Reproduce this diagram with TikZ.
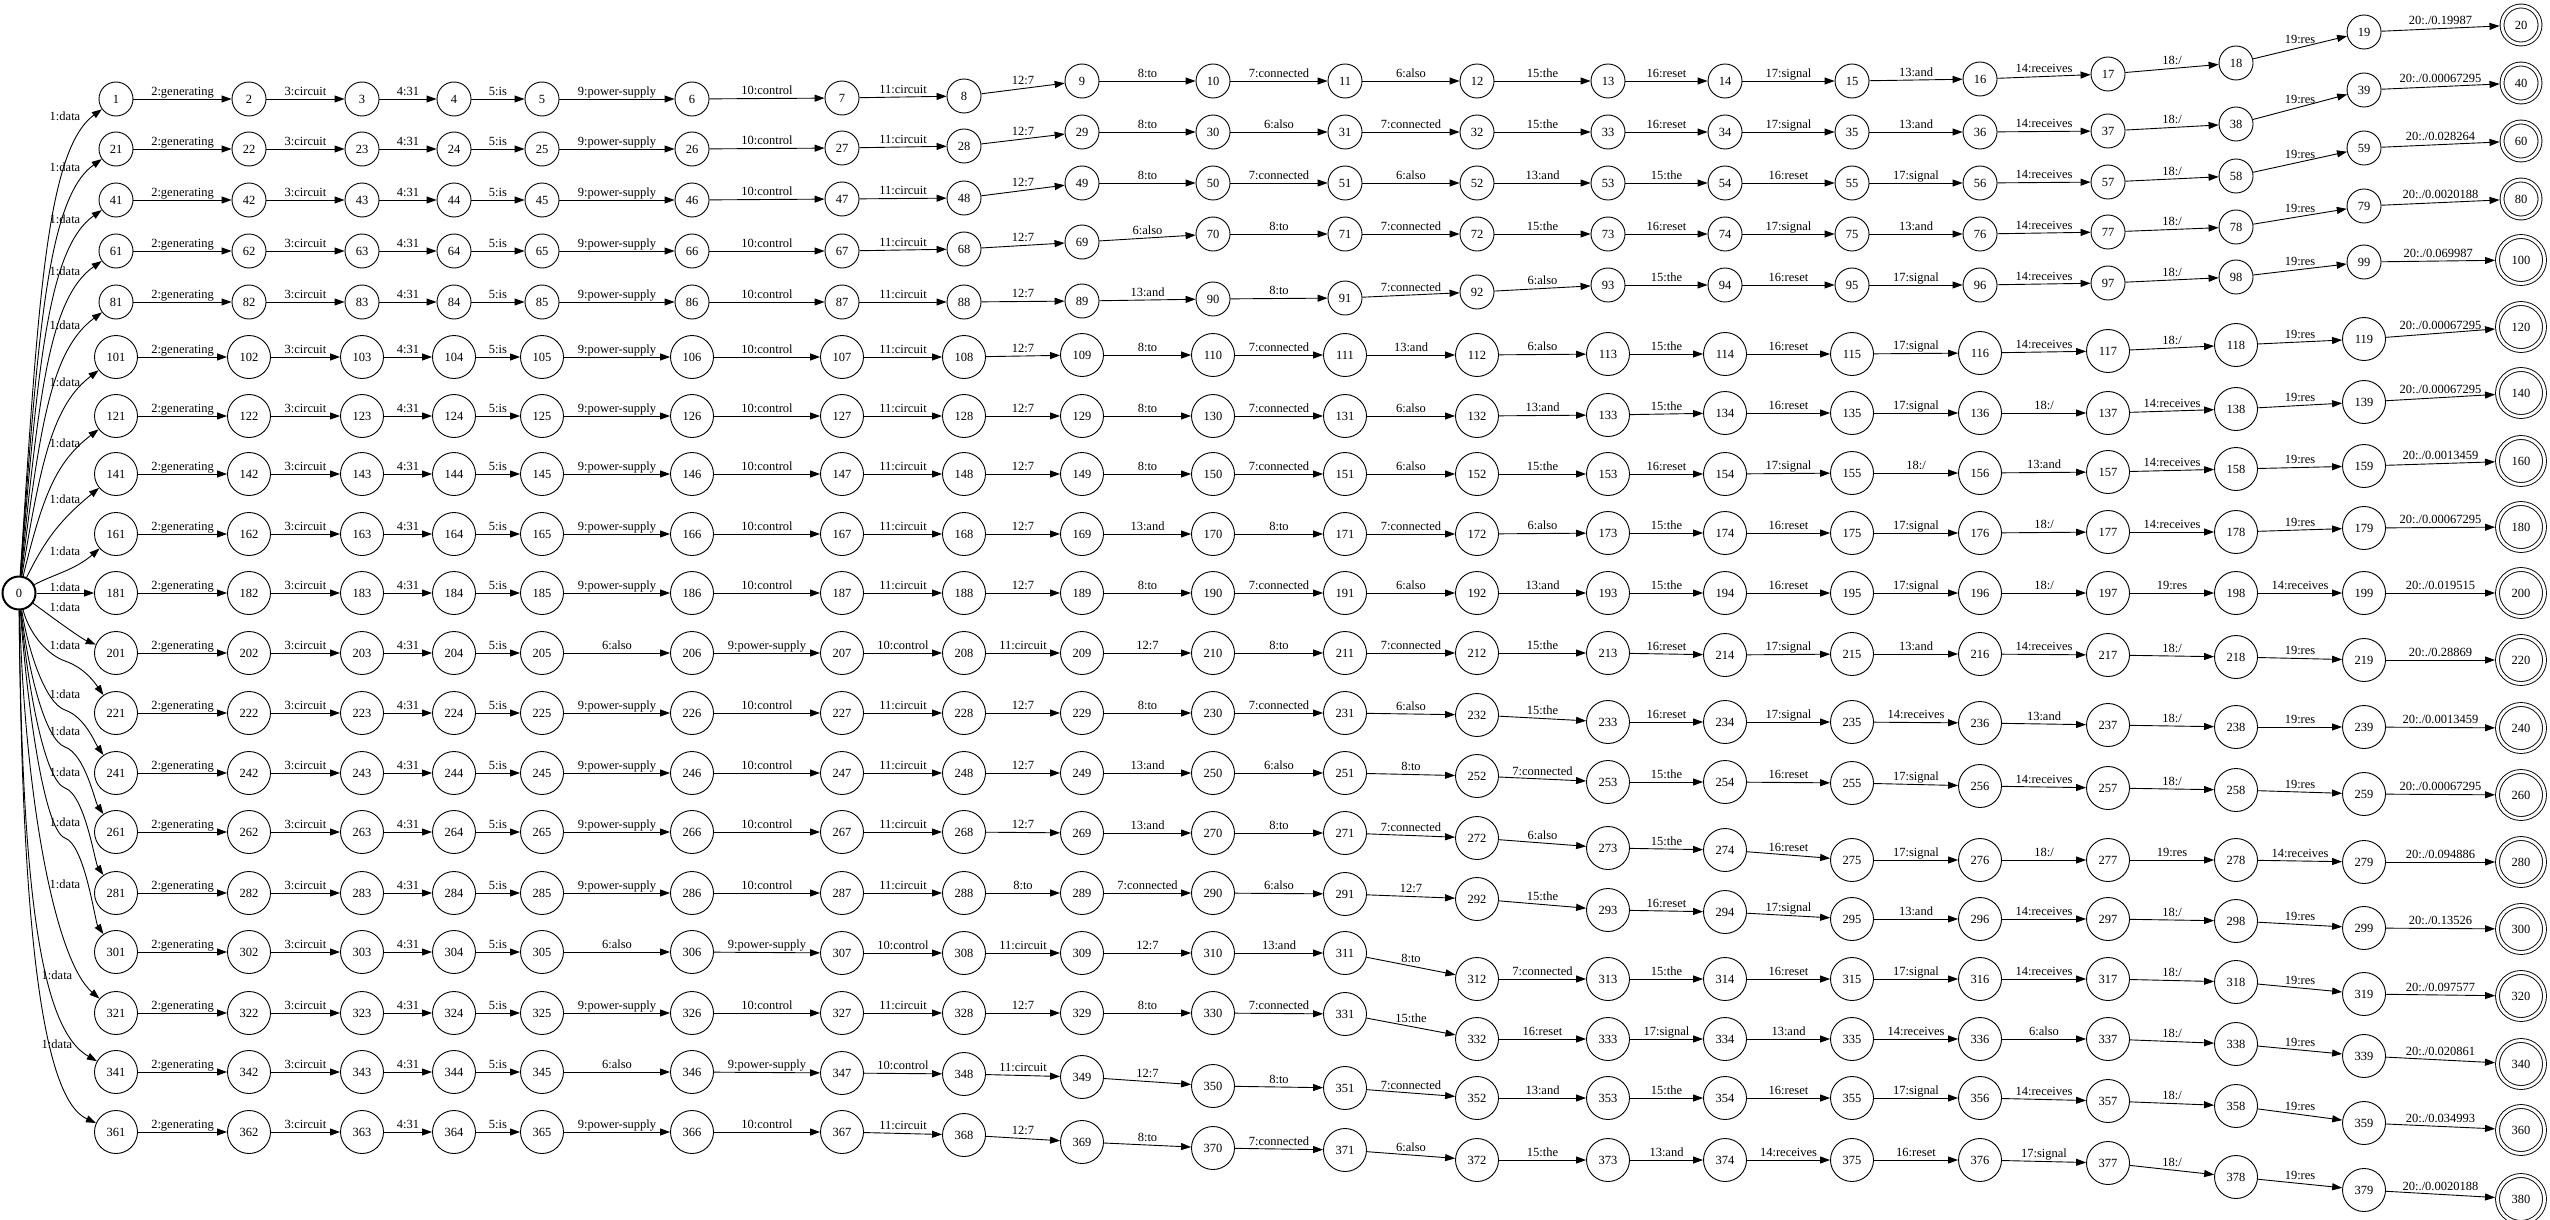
\documentclass[tikz,border=0pt]{standalone}
\usepackage{fontspec}
\setmainfont{Liberation Serif}
\usetikzlibrary{arrows.meta}

% column x positions of the 20 states of each path
\def\colx{{116,249,362,454,542,692,842,964,1082,1213,1345,1477,1608,1725,1852,1980,2108,2236,2364,2521}}

% one path: #1 = first id - 1, #2 = y of the 20 states, #3 = the 19 arc labels
\newcommand{\fstrow}[3]{%
  \foreach \yy [count=\k] in {#2} {
    \pgfmathtruncatemacro\sid{#1+\k}
    \pgfmathsetmacro\xx{\colx[\k-1]}
    \ifnum\k<20
      \pgfmathsetmacro\sz{\sid<100 ? 34 : 43}
      \node[state, minimum size=\sz pt] (n\sid) at (\xx,\yy) {\sid};
    \else
      \pgfmathsetmacro\sz{\sid<100 ? 38 : 47}
      \node[final, minimum size=\sz pt] (n\sid) at (\xx,\yy) {\sid};
    \fi
  }
  \foreach \elab [count=\k] in {#3} {
    \pgfmathtruncatemacro\na{#1+\k}
    \pgfmathtruncatemacro\nb{#1+\k+1}
    \draw[arc] (n\na) -- node[lab] {\elab} (n\nb);
  }
}

\begin{document}
\begin{tikzpicture}[
    x=1pt, y=-1pt,
    font=\fontsize{12.5}{15}\selectfont,
    state/.style={circle, draw, line width=0.9pt, inner sep=0pt},
    final/.style={circle, draw, double, double distance=3pt, line width=0.9pt, inner sep=0pt, outer sep=2.5pt},
    start/.style={state, line width=2pt, minimum size=33pt},
    arc/.style={-{Triangle[length=10pt,width=7pt]}, line width=0.9pt},
    lab/.style={midway, above, inner sep=1pt, text height=8.5pt, text depth=2.5pt},
    dlab/.style={inner sep=0pt}
]
\useasboundingbox (0,0) rectangle (2550,1220);

\node[start] (n0) at (19,593) {0};

\fstrow{0}{99,99,99,99,99,99,98,96,81,81,81,81,81,81,81,79,74,63,32,25}{2:generating,3:circuit,4:31,5:is,9:power-supply,10:control,11:circuit,12:7,8:to,7:connected,6:also,15:the,16:reset,17:signal,13:and,14:receives,18:/,19:res,20:./0.19987}
\fstrow{20}{149,149,149,149,149,149,148,146,132,132,132,132,132,132,132,132,131,124,90,83}{2:generating,3:circuit,4:31,5:is,9:power-supply,10:control,11:circuit,12:7,8:to,6:also,7:connected,15:the,16:reset,17:signal,13:and,14:receives,18:/,19:res,20:./0.00067295}
\fstrow{40}{200,200,200,200,200,200,199,198,183,183,183,183,183,183,183,183,182,176,148,141}{2:generating,3:circuit,4:31,5:is,9:power-supply,10:control,11:circuit,12:7,8:to,7:connected,6:also,13:and,15:the,16:reset,17:signal,14:receives,18:/,19:res,20:./0.028264}
\fstrow{60}{251,251,251,251,251,251,251,249,242,234,234,234,234,234,234,234,232,227,206,199}{2:generating,3:circuit,4:31,5:is,9:power-supply,10:control,11:circuit,12:7,6:also,8:to,7:connected,15:the,16:reset,17:signal,13:and,14:receives,18:/,19:res,20:./0.0020188}
\fstrow{80}{302,302,302,302,302,302,302,302,301,299,298,292,285,285,285,285,283,277,262,260}{2:generating,3:circuit,4:31,5:is,9:power-supply,10:control,11:circuit,12:7,13:and,8:to,7:connected,6:also,15:the,16:reset,17:signal,14:receives,18:/,19:res,20:./0.069987}
\fstrow{100}{357,357,357,357,357,357,357,357,355,355,355,355,354,354,354,353,351,345,339,327}{2:generating,3:circuit,4:31,5:is,9:power-supply,10:control,11:circuit,12:7,8:to,7:connected,13:and,6:also,15:the,16:reset,17:signal,14:receives,18:/,19:res,20:./0.00067295}
\fstrow{120}{416,416,416,416,416,416,416,416,416,416,416,416,415,413,413,413,413,409,402,393}{2:generating,3:circuit,4:31,5:is,9:power-supply,10:control,11:circuit,12:7,8:to,7:connected,6:also,13:and,15:the,16:reset,17:signal,18:/,14:receives,19:res,20:./0.00067295}
\fstrow{140}{474,474,474,474,474,474,474,474,474,474,474,474,474,474,473,473,472,469,466,461}{2:generating,3:circuit,4:31,5:is,9:power-supply,10:control,11:circuit,12:7,8:to,7:connected,6:also,15:the,16:reset,17:signal,18:/,13:and,14:receives,19:res,20:./0.0013459}
\fstrow{160}{534,534,534,534,534,534,534,534,534,534,534,534,533,533,533,533,532,532,528,527}{2:generating,3:circuit,4:31,5:is,9:power-supply,10:control,11:circuit,12:7,13:and,8:to,7:connected,6:also,15:the,16:reset,17:signal,18:/,14:receives,19:res,20:./0.00067295}
\fstrow{180}{593,593,593,593,593,593,593,593,593,593,593,593,593,593,593,593,593,593,593,593}{2:generating,3:circuit,4:31,5:is,9:power-supply,10:control,11:circuit,12:7,8:to,7:connected,6:also,13:and,15:the,16:reset,17:signal,18:/,19:res,14:receives,20:./0.019515}
\fstrow{200}{653,653,653,653,653,653,653,653,653,653,653,653,653,655,654,654,655,657,660,660}{2:generating,3:circuit,4:31,5:is,6:also,9:power-supply,10:control,11:circuit,12:7,8:to,7:connected,15:the,16:reset,17:signal,13:and,14:receives,18:/,19:res,20:./0.28869}
\fstrow{220}{713,713,713,713,713,713,713,713,713,713,713,715,722,722,722,723,725,727,727,728}{2:generating,3:circuit,4:31,5:is,9:power-supply,10:control,11:circuit,12:7,8:to,7:connected,6:also,15:the,16:reset,17:signal,14:receives,13:and,18:/,19:res,20:./0.0013459}
\fstrow{240}{773,773,773,773,773,773,773,773,773,773,773,776,782,782,783,786,788,790,794,795}{2:generating,3:circuit,4:31,5:is,9:power-supply,10:control,11:circuit,12:7,13:and,6:also,8:to,7:connected,15:the,16:reset,17:signal,14:receives,18:/,19:res,20:./0.00067295}
\fstrow{260}{832,832,832,832,832,832,832,832,833,833,833,838,848,850,860,860,860,860,862,862}{2:generating,3:circuit,4:31,5:is,9:power-supply,10:control,11:circuit,12:7,13:and,8:to,7:connected,6:also,15:the,16:reset,17:signal,18:/,19:res,14:receives,20:./0.094886}
\fstrow{280}{893,893,893,893,893,893,893,893,893,893,894,899,910,912,919,919,919,921,928,929}{2:generating,3:circuit,4:31,5:is,9:power-supply,10:control,11:circuit,8:to,7:connected,6:also,12:7,15:the,16:reset,17:signal,13:and,14:receives,18:/,19:res,20:./0.13526}
\fstrow{300}{952,952,952,952,952,952,953,953,953,953,953,979,979,979,979,979,979,982,994,996}{2:generating,3:circuit,4:31,5:is,6:also,9:power-supply,10:control,11:circuit,12:7,13:and,8:to,7:connected,15:the,16:reset,17:signal,14:receives,18:/,19:res,20:./0.097577}
\fstrow{320}{1013,1013,1013,1013,1013,1013,1013,1013,1013,1013,1014,1039,1039,1039,1039,1039,1039,1044,1056,1064}{2:generating,3:circuit,4:31,5:is,9:power-supply,10:control,11:circuit,12:7,8:to,7:connected,15:the,16:reset,17:signal,13:and,14:receives,6:also,18:/,19:res,20:./0.020861}
\fstrow{340}{1072,1072,1072,1072,1072,1072,1073,1074,1077,1086,1088,1098,1098,1098,1098,1098,1101,1106,1123,1130}{2:generating,3:circuit,4:31,5:is,6:also,9:power-supply,10:control,11:circuit,12:7,8:to,7:connected,13:and,15:the,16:reset,17:signal,14:receives,18:/,19:res,20:./0.034993}
\fstrow{360}{1132,1132,1132,1132,1132,1132,1132,1135,1142,1148,1150,1160,1160,1160,1160,1160,1163,1177,1190,1199}{2:generating,3:circuit,4:31,5:is,9:power-supply,10:control,11:circuit,12:7,8:to,7:connected,6:also,15:the,13:and,14:receives,16:reset,17:signal,18:/,19:res,20:./0.0020188}

% arcs leaving the start state
\foreach \sid/\ly/\ax/\ay/\bx/\by in {1/116/38/305/46/150, 21/167/38/335/47/198, 41/219/38/365/48/248, 61/271/39/395/49/298, 81/325/40/425/51/350, 101/382/41/460/53/405, 121/443/43/495/56/462, 141/499/45/540/60/520, 161/551/52/575/75/570}
  \draw[arc] (n0) .. controls (\ax,\ay) and (\bx,\by) .. (n\sid) node[dlab] at (65,\ly) {1:data};
\draw[arc] (n0) -- (n181) node[dlab] at (65,587) {1:data};
\draw[arc] (n0) .. controls (45,612) and (80,638) .. (n201) node[dlab] at (65,607) {1:data};
\foreach \sid/\ly/\ay/\dy in {221/645/630/683, 241/694/650/743, 261/731/670/802, 281/772/690/863, 301/822/715/922}
  \draw[arc] (n0) .. controls (28,\ay) and (45,\ly+9) .. (65,\ly+16) .. controls (85,\ly+23) and (95,\dy) .. (n\sid) node[dlab] at (65,\ly) {1:data};
\draw[arc] (n0) .. controls (25,800) and (55,960) .. (n321) node[dlab] at (65,884) {1:data};
\draw[arc] (n0) .. controls (22,900) and (42,1030) .. (n341) node[dlab] at (57,975) {1:data};
\draw[arc] (n0) .. controls (22,950) and (45,1100) .. (n361) node[dlab] at (57,1044) {1:data};
\end{tikzpicture}
\end{document}
